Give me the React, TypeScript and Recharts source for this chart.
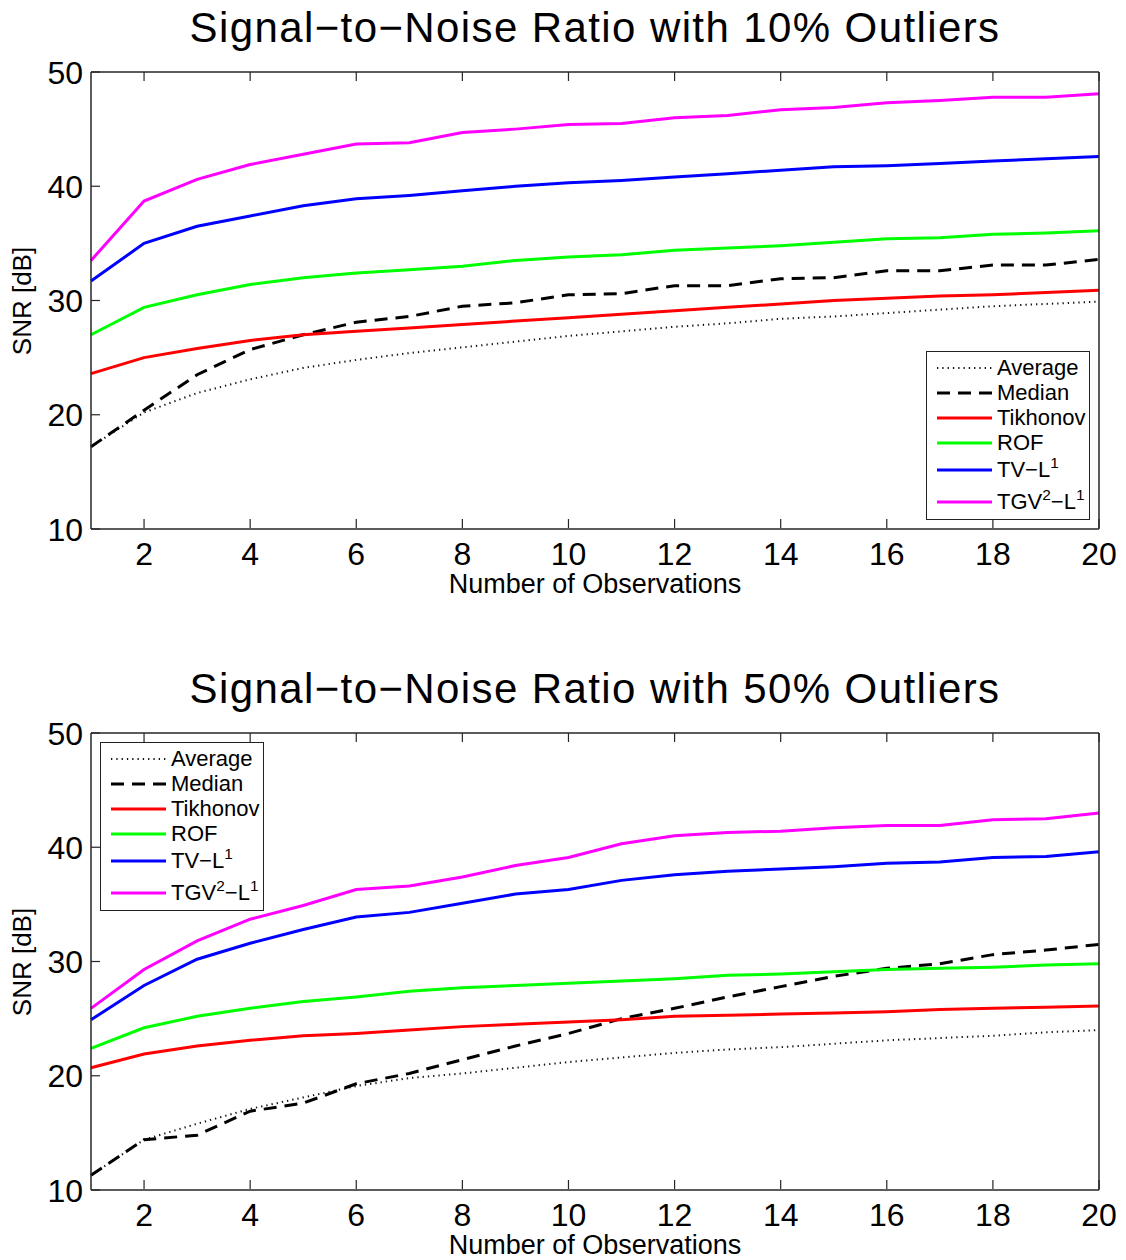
import React from 'react';
import { LineChart, Line, XAxis, YAxis, Legend } from 'recharts';

const obs = [1, 2, 3, 4, 5, 6, 7, 8, 9, 10, 11, 12, 13, 14, 15, 16, 17, 18, 19, 20];
const xTicks = [2, 4, 6, 8, 10, 12, 14, 16, 18, 20];
const yTicks = [10, 20, 30, 40, 50];

// 10% outliers
const avg10 = [17.2, 20.2, 21.9, 23.1, 24.1, 24.8, 25.4, 25.9, 26.4, 26.9, 27.3, 27.7, 28.0, 28.4, 28.6, 28.9, 29.2, 29.5, 29.7, 29.9];
const med10 = [17.2, 20.4, 23.5, 25.7, 27.0, 28.1, 28.6, 29.5, 29.8, 30.5, 30.6, 31.3, 31.3, 31.9, 32.0, 32.6, 32.6, 33.1, 33.1, 33.6];
const tik10 = [23.6, 25.0, 25.8, 26.5, 27.0, 27.3, 27.6, 27.9, 28.2, 28.5, 28.8, 29.1, 29.4, 29.7, 30.0, 30.2, 30.4, 30.5, 30.7, 30.9];
const rof10 = [27.0, 29.4, 30.5, 31.4, 32.0, 32.4, 32.7, 33.0, 33.5, 33.8, 34.0, 34.4, 34.6, 34.8, 35.1, 35.4, 35.5, 35.8, 35.9, 36.1];
const tvl10 = [31.7, 35.0, 36.5, 37.4, 38.3, 38.9, 39.2, 39.6, 40.0, 40.3, 40.5, 40.8, 41.1, 41.4, 41.7, 41.8, 42.0, 42.2, 42.4, 42.6];
const tgv10 = [33.5, 38.7, 40.6, 41.9, 42.8, 43.7, 43.8, 44.7, 45.0, 45.4, 45.5, 46.0, 46.2, 46.7, 46.9, 47.3, 47.5, 47.8, 47.8, 48.1];

// 50% outliers
const avg50 = [11.3, 14.4, 15.8, 17.1, 18.1, 19.1, 19.8, 20.2, 20.7, 21.2, 21.6, 22.0, 22.3, 22.5, 22.8, 23.1, 23.3, 23.5, 23.8, 24.0];
const med50 = [11.3, 14.4, 14.8, 16.9, 17.6, 19.3, 20.2, 21.4, 22.6, 23.7, 25.0, 25.9, 26.9, 27.8, 28.7, 29.4, 29.8, 30.6, 31.0, 31.5];
const tik50 = [20.7, 21.9, 22.6, 23.1, 23.5, 23.7, 24.0, 24.3, 24.5, 24.7, 24.9, 25.2, 25.3, 25.4, 25.5, 25.6, 25.8, 25.9, 26.0, 26.1];
const rof50 = [22.4, 24.2, 25.2, 25.9, 26.5, 26.9, 27.4, 27.7, 27.9, 28.1, 28.3, 28.5, 28.8, 28.9, 29.1, 29.3, 29.4, 29.5, 29.7, 29.8];
const tvl50 = [24.9, 27.9, 30.2, 31.6, 32.8, 33.9, 34.3, 35.1, 35.9, 36.3, 37.1, 37.6, 37.9, 38.1, 38.3, 38.6, 38.7, 39.1, 39.2, 39.6];
const tgv50 = [25.9, 29.3, 31.8, 33.7, 34.9, 36.3, 36.6, 37.4, 38.4, 39.1, 40.3, 41.0, 41.3, 41.4, 41.7, 41.9, 41.9, 42.4, 42.5, 43.0];

function Sup({ children }: { children: React.ReactNode }) {
  return <span style={{ fontSize: '0.7em', position: 'relative', top: '-0.6em' }}>{children}</span>;
}

const series = [
  { key: 'avg', color: '#111111', width: 2, dash: '1.3 4', label: <>Average</> },
  { key: 'med', color: '#000000', width: 3, dash: '13 8', label: <>Median</> },
  { key: 'tik', color: '#ff0000', width: 3, dash: undefined, label: <>Tikhonov</> },
  { key: 'rof', color: '#00ff00', width: 3, dash: undefined, label: <>ROF</> },
  { key: 'tvl', color: '#0000ff', width: 3, dash: undefined, label: <>TV−L<Sup>1</Sup></> },
  { key: 'tgv', color: '#ff00ff', width: 3, dash: undefined, label: <>TGV<Sup>2</Sup>−L<Sup>1</Sup></> },
];

const font = '"Liberation Sans", Arial, Helvetica, sans-serif';
const axisColor = '#262626';

// axes are 1px thick, ticks are drawn pointing into the plot
const BottomTick = (props: any) => {
  const { x, y, payload } = props;
  return (
    <g>
      <line x1={x} y1={y - 1} x2={x} y2={y - 10} stroke={axisColor} strokeWidth={1.2} />
      <text x={x} y={y + 36} textAnchor="middle" fontSize={32} fontFamily={font} fill="#000">{payload.value}</text>
    </g>
  );
};
const TopTick = (props: any) => {
  const { x, y } = props;
  return <line x1={x} y1={y} x2={x} y2={y + 9} stroke={axisColor} strokeWidth={1.2} />;
};
const LeftTick = (props: any) => {
  const { x, y, payload } = props;
  return (
    <g>
      <line x1={x} y1={y} x2={x + 9} y2={y} stroke={axisColor} strokeWidth={1.2} />
      <text x={x - 8} y={y + 11.5} textAnchor="end" fontSize={32} fontFamily={font} fill="#000">{payload.value}</text>
    </g>
  );
};
const RightTick = (props: any) => {
  const { x, y } = props;
  return <line x1={x} y1={y} x2={x - 9} y2={y} stroke={axisColor} strokeWidth={1.2} />;
};

const rowHeights = [25, 25, 25, 25, 30, 34];

const renderLegend = () => (
  <div style={{ border: '1.5px solid #222', background: '#fff', boxSizing: 'border-box', width: 164, height: 169, paddingTop: 3, fontFamily: font, fontSize: 22 }}>
    {series.map((s, i) => (
      <div key={s.key} style={{ height: rowHeights[i], display: 'flex', alignItems: 'center', lineHeight: 1 }}>
        <svg width={70} height={10} style={{ flex: 'none' }}>
          <line x1={10} y1={5} x2={65} y2={5} stroke={s.color} strokeWidth={s.width} strokeDasharray={s.dash} />
        </svg>
        <span style={{ whiteSpace: 'nowrap' }}>{s.label}</span>
      </div>
    ))}
  </div>
);

type PanelProps = {
  top: number;
  height: number;
  title: string;
  rows: any[];
  legendPos: { left: number; top: number };
};

const Panel = ({ top, height, title, rows, legendPos }: PanelProps) => {
  const plotBottom = top + 72 + 457;
  const axisLine = { stroke: axisColor, strokeWidth: 1.5 };
  return (
    <>
      <div style={{ position: 'absolute', left: 91, width: 1008, top: top + 6.5, textAlign: 'center', fontFamily: font, fontSize: 42, lineHeight: 1, letterSpacing: 1.4, whiteSpace: 'nowrap' }}>
        {title}
      </div>
      <div style={{ position: 'absolute', left: 22, top: top + 300.5, transform: 'translate(-50%, -50%) rotate(-90deg)', fontFamily: font, fontSize: 26, lineHeight: 1, whiteSpace: 'nowrap' }}>
        SNR [dB]
      </div>
      <div style={{ position: 'absolute', left: 91, width: 1008, top: plotBottom + 42, textAlign: 'center', fontFamily: font, fontSize: 27, lineHeight: 1, whiteSpace: 'nowrap' }}>
        Number of Observations
      </div>
      <div style={{ position: 'absolute', left: 0, top }}>
        <LineChart width={1126} height={height} data={rows} margin={{ top: 71, right: 26, bottom: height - 72 - 457 - 1, left: 90 }}>
          <XAxis xAxisId="b" dataKey="n" type="number" domain={[1, 20]} ticks={xTicks} interval={0} height={1} tickSize={0} tickMargin={0} tickLine={false} tick={<BottomTick />} axisLine={axisLine} />
          <XAxis xAxisId="t" orientation="top" dataKey="n" type="number" domain={[1, 20]} ticks={xTicks} interval={0} height={1} tickSize={0} tickMargin={0} tickLine={false} tick={<TopTick />} axisLine={axisLine} />
          <YAxis yAxisId="l" type="number" domain={[10, 50]} ticks={yTicks} interval={0} width={1} tickSize={0} tickMargin={0} tickLine={false} tick={<LeftTick />} axisLine={axisLine} />
          <YAxis yAxisId="r" orientation="right" type="number" domain={[10, 50]} ticks={yTicks} interval={0} width={1} tickSize={0} tickMargin={0} tickLine={false} tick={<RightTick />} axisLine={axisLine} />
          {series.map((s) => (
            <Line key={s.key} xAxisId="b" yAxisId="l" type="linear" dataKey={s.key} name={s.key} stroke={s.color} strokeWidth={s.width} strokeDasharray={s.dash} dot={false} activeDot={false} isAnimationActive={false} />
          ))}
          <Legend layout="horizontal" verticalAlign="middle" align="center" content={renderLegend} wrapperStyle={{ left: legendPos.left, top: legendPos.top, width: 164, height: 169 }} />
        </LineChart>
      </div>
    </>
  );
};

const rows10 = obs.map((n, i) => ({ n, avg: avg10[i], med: med10[i], tik: tik10[i], rof: rof10[i], tvl: tvl10[i], tgv: tgv10[i] }));
const rows50 = obs.map((n, i) => ({ n, avg: avg50[i], med: med50[i], tik: tik50[i], rof: rof50[i], tvl: tvl50[i], tgv: tgv50[i] }));

export default function App() {
  return (
    <div style={{ position: 'absolute', left: 0, top: 0, width: 1126, height: 1260, background: '#fff', overflow: 'hidden' }}>
      <Panel top={0} height={620} title="Signal−to−Noise Ratio with 10% Outliers" rows={rows10} legendPos={{ left: 926, top: 351 }} />
      <Panel top={661} height={599} title="Signal−to−Noise Ratio with 50% Outliers" rows={rows50} legendPos={{ left: 100, top: 81 }} />
    </div>
  );
}
